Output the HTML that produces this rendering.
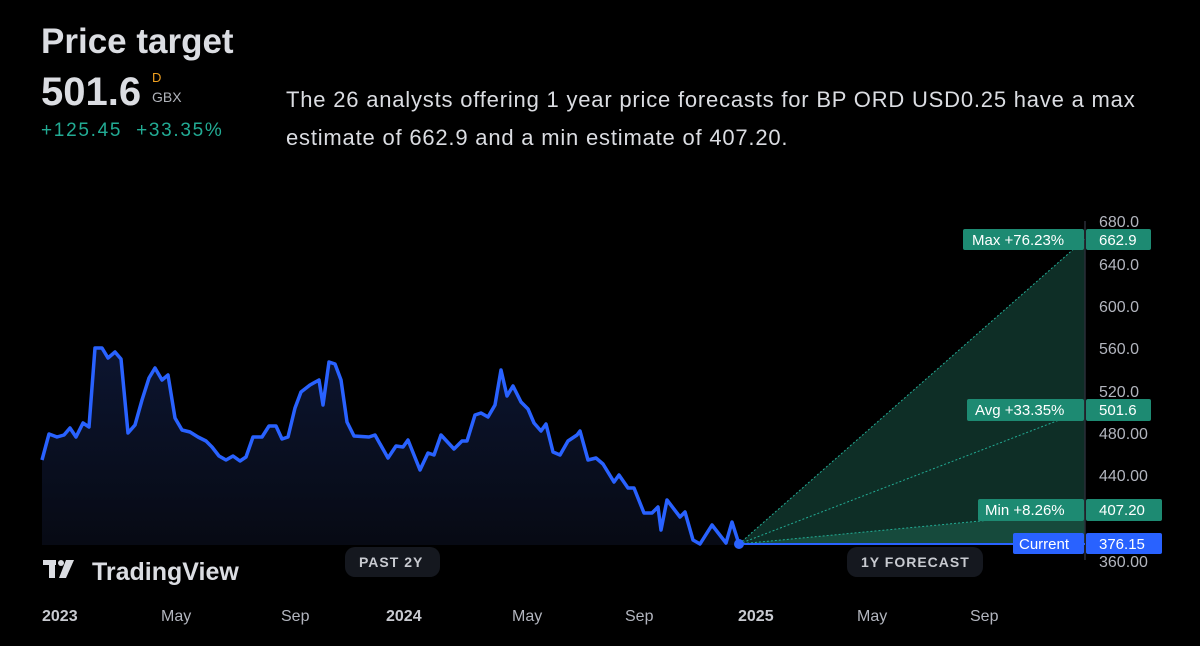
<!DOCTYPE html>
<html><head><meta charset="utf-8"><style>
body{margin:0;width:1200px;height:646px;background:#000;overflow:hidden;font-family:"Liberation Sans",sans-serif;position:relative;color:#dbdde2}
.a{position:absolute;white-space:nowrap}
</style></head><body>
<div class="a" style="left:41px;top:22px;font-size:35px;font-weight:bold;color:#dbdde2">Price target</div>
<div class="a" style="left:41px;top:70px;font-size:40px;font-weight:bold;color:#dbdde2">501.6</div>
<div class="a" style="left:152px;top:70px;font-size:13px;color:#f0a020">D</div>
<div class="a" style="left:152px;top:89px;font-size:14px;color:#b0b3ba">GBX</div>
<div class="a" style="left:41px;top:120px;font-size:19px;letter-spacing:1.7px;color:#22ab94">+125.45&nbsp; +33.35%</div>
<div class="a" style="left:286px;top:81px;font-size:22px;letter-spacing:0.8px;line-height:38px;color:#dbdde2">The 26 analysts offering 1 year price forecasts for BP ORD USD0.25 have a max<br>estimate of 662.9 and a min estimate of 407.20.</div>

<svg class="a" style="left:0;top:0" width="1200" height="646">
<defs><linearGradient id="g" x1="0" y1="0" x2="0" y2="1"><stop offset="0" stop-color="#0c1530"/><stop offset="1" stop-color="#070a14"/></linearGradient></defs>
<polygon points="739,544 1085,239 1085,544" fill="#0e2e26"/>
<polygon points="739,544 1085,511 1085,544" fill="#164a3c"/>
<line x1="739" y1="544" x2="1085" y2="239" stroke="#22ab94" stroke-dasharray="2,2" stroke-width="1"/>
<line x1="739" y1="544" x2="1085" y2="410" stroke="#22ab94" stroke-dasharray="2,2" stroke-width="1"/>
<line x1="739" y1="544" x2="1085" y2="511" stroke="#22ab94" stroke-dasharray="2,2" stroke-width="1"/>
<line x1="1085" y1="221" x2="1085" y2="560" stroke="#2a2e39" stroke-width="1.5"/>
<polygon fill="url(#g)" points="42,545 42,460 49,434 57,437 64,435 70,428 76,437 83,423 89,427 95,348 102,348 108,358 115,352 121,359 128,433 135,425 142,400 149,378 155,368 162,380 168,375 175,418 182,430 190,432 198,437 206,441 212,447 219,456 226,460 233,456 240,461 246,457 253,437 262,437 269,426 276,426 282,439 288,437 295,408 301,392 310,385 319,380 323,405 329,362 335,364 341,380 347,422 354,436 369,437 375,435 388,458 396,446 403,447 408,440 420,470 428,453 434,455 441,435 454,449 462,441 467,441 475,415 481,413 488,417 495,405 501,370 507,396 513,386 521,402 528,409 534,423 541,431 546,424 553,452 560,455 568,441 577,435 580,431 588,460 596,458 603,464 614,482 619,475 628,488 634,488 644,513 652,513 658,507 661,530 667,500 680,517 685,512 693,540 700,544 712,525 726,543 732,522 739,544 739,545"/>
<polyline fill="none" stroke="#2962ff" stroke-width="3.5" stroke-linejoin="round" points="42,460 49,434 57,437 64,435 70,428 76,437 83,423 89,427 95,348 102,348 108,358 115,352 121,359 128,433 135,425 142,400 149,378 155,368 162,380 168,375 175,418 182,430 190,432 198,437 206,441 212,447 219,456 226,460 233,456 240,461 246,457 253,437 262,437 269,426 276,426 282,439 288,437 295,408 301,392 310,385 319,380 323,405 329,362 335,364 341,380 347,422 354,436 369,437 375,435 388,458 396,446 403,447 408,440 420,470 428,453 434,455 441,435 454,449 462,441 467,441 475,415 481,413 488,417 495,405 501,370 507,396 513,386 521,402 528,409 534,423 541,431 546,424 553,452 560,455 568,441 577,435 580,431 588,460 596,458 603,464 614,482 619,475 628,488 634,488 644,513 652,513 658,507 661,530 667,500 680,517 685,512 693,540 700,544 712,525 726,543 732,522 739,544"/>
<line x1="739" y1="544" x2="1085" y2="544" stroke="#2962ff" stroke-width="2"/>
<circle cx="739" cy="544" r="5" fill="#2962ff"/>
<g font-size="16" fill="#b2b5be" font-family="Liberation Sans,sans-serif">
<text x="1099" y="227">680.0</text><text x="1099" y="270">640.0</text><text x="1099" y="312">600.0</text><text x="1099" y="354">560.0</text><text x="1099" y="397">520.0</text><text x="1099" y="439">480.00</text><text x="1099" y="481">440.00</text><text x="1099" y="567">360.00</text>
</g>
<g font-size="15" fill="#fff" font-family="Liberation Sans,sans-serif">
<rect x="963" y="229" width="121" height="21" rx="2" fill="#1d8a72"/><text x="972" y="245">Max +76.23%</text>
<rect x="1086" y="229" width="65" height="21" rx="2" fill="#1d8a72"/><text x="1099" y="245">662.9</text>
<rect x="967" y="399" width="117" height="22" rx="2" fill="#1d8a72"/><text x="975" y="415">Avg +33.35%</text>
<rect x="1086" y="399" width="65" height="22" rx="2" fill="#1d8a72"/><text x="1099" y="415">501.6</text>
<rect x="978" y="499" width="106" height="22" rx="2" fill="#1d8a72"/><text x="985" y="515">Min +8.26%</text>
<rect x="1086" y="499" width="76" height="22" rx="2" fill="#1d8a72"/><text x="1099" y="515">407.20</text>
<rect x="1013" y="533" width="71" height="21" rx="2" fill="#2962ff"/><text x="1019" y="549">Current</text>
<rect x="1086" y="533" width="76" height="21" rx="2" fill="#2962ff"/><text x="1099" y="549">376.15</text>
</g>
<rect x="345" y="547" width="95" height="30" rx="10" fill="#15181f"/>
<rect x="847" y="547" width="136" height="30" rx="10" fill="#15181f"/>
<g font-size="14" fill="#c8cad0" font-weight="bold" letter-spacing="1" font-family="Liberation Sans,sans-serif">
<text x="359" y="567">PAST 2Y</text><text x="861" y="567">1Y FORECAST</text>
</g>
<g font-size="16" fill="#b2b5be" font-family="Liberation Sans,sans-serif">
<text x="42" y="621" font-weight="bold" fill="#c8cad0">2023</text><text x="161" y="621">May</text><text x="281" y="621">Sep</text>
<text x="386" y="621" font-weight="bold" fill="#c8cad0">2024</text><text x="512" y="621">May</text><text x="625" y="621">Sep</text>
<text x="738" y="621" font-weight="bold" fill="#c8cad0">2025</text><text x="857" y="621">May</text><text x="970" y="621">Sep</text>
</g>
<g fill="#dbdde2"><rect x="43" y="560" width="13" height="5"/><rect x="49" y="560" width="6" height="18"/><circle cx="61" cy="563" r="3"/><polygon points="66,560 74,560 66,578 59,578"/></g>
<text x="92" y="580" font-size="25" font-weight="bold" fill="#dbdde2" font-family="Liberation Sans,sans-serif">TradingView</text>
</svg>
</body></html>
